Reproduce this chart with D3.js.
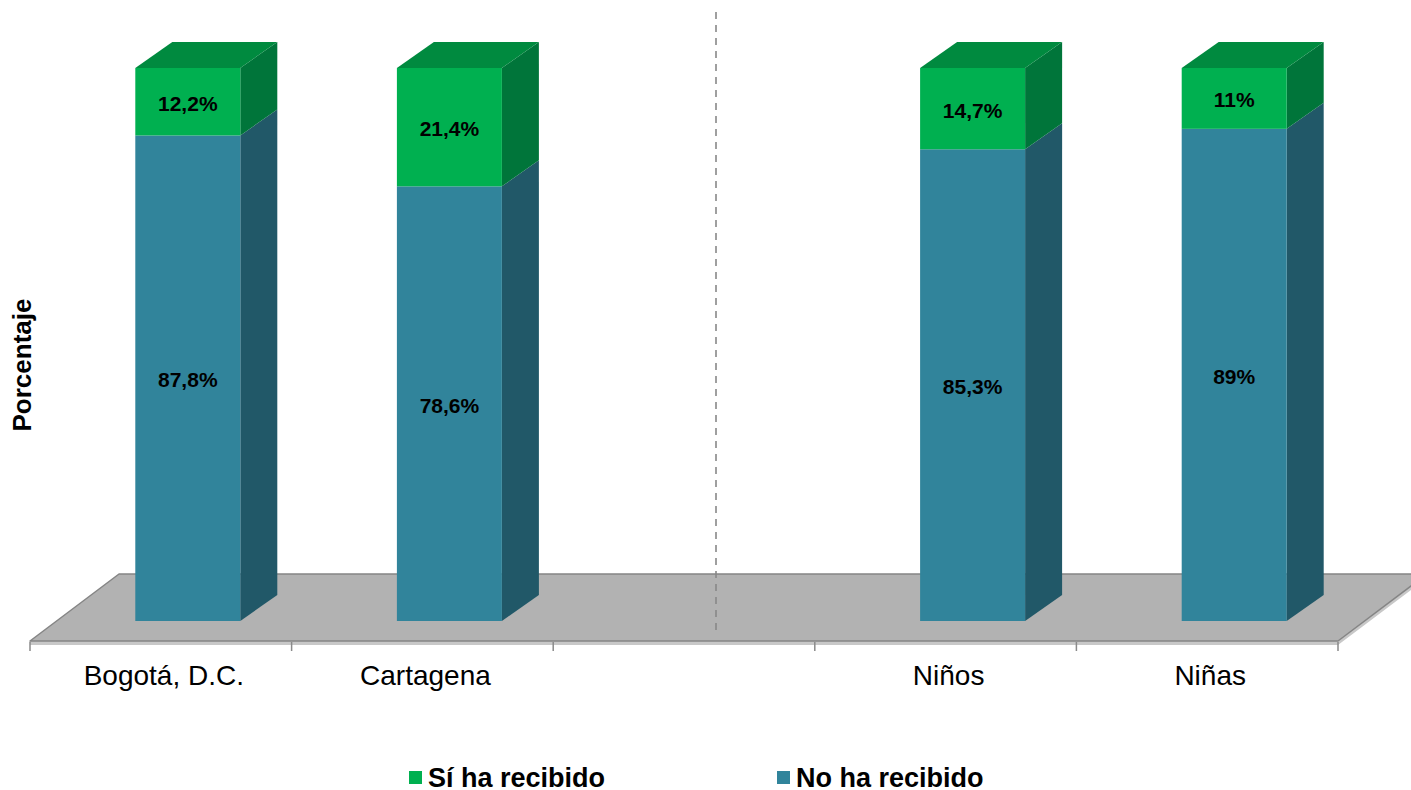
<!DOCTYPE html>
<html>
<head>
<meta charset="utf-8">
<script src="https://cdn.jsdelivr.net/npm/d3@7"></script>
<style>
  body { margin: 0; background: #fff; }
  svg { display: block; font-family: "Liberation Sans", Arial, sans-serif; }
</style>
</head>
<body>
<div id="canvas"></div>
<script>
"use strict"

/* data; the empty slot is the gap behind the dashed line */
let categories = ["Bogotá, D.C.", "Cartagena", "", "Niños", "Niñas"];
let siValues = [12.2, 21.4, null, 14.7, 11];
let noValues = [87.8, 78.6, null, 85.3, 89];
let seriesNames = ["Sí ha recibido", "No ha recibido"];

let W = 1411;
let H = 790;

let drawing = d3.select("#canvas")
    .append("svg")
    .attr("width", W)
    .attr("height", H);

/* floor and bar geometry (pseudo 3D) */
let floorY = 641;
let floorDx = 89, floorDy = -67;
let barOffX = 27, barOffY = -20;   // front face of bars sits a bit back on the floor
let barDx = 37, barDy = -26;        // bar depth
let barW = 105;

let x = d3.scaleBand()
    .domain(d3.range(categories.length))
    .range([30, 1338])
    .paddingInner(0)
    .paddingOuter(0);

let y = d3.scaleLinear()
    .domain([0, 100])
    .range([floorY + barOffY, 68]);

let fmt = v => String(v).replace(".", ",") + "%";

/* floor */
let fx0 = x.range()[0], fx1 = x.range()[1];
let floorThick = drawing.append("polygon")
    .attr("points", [[fx0, floorY], [fx1, floorY], [fx1 + floorDx, floorY + floorDy],
                     [fx1 + floorDx, floorY + floorDy + 4], [fx1, floorY + 4], [fx0, floorY + 4]].join(" "))
    .attr("fill", "#c8c8c8");

let floor = drawing.append("polygon")
    .attr("points", [[fx0, floorY], [fx1, floorY], [fx1 + floorDx, floorY + floorDy],
                     [fx0 + floorDx, floorY + floorDy]].join(" "))
    .attr("fill", "#b2b2b2")
    .attr("stroke", "#858585")
    .attr("stroke-width", 1.5)
    .attr("stroke-linejoin", "round");

/* tick marks at category boundaries */
let boundaries = d3.range(categories.length + 1).map(i => fx0 + i * x.bandwidth());
drawing.append("g")
    .selectAll("line")
    .data(boundaries)
    .join("line")
    .attr("x1", d => d)
    .attr("x2", d => d)
    .attr("y1", floorY + 1)
    .attr("y2", floorY + 10)
    .attr("stroke", "#8a8a8a")
    .attr("stroke-width", 1.5);

/* dashed separator */
let sepX = x(2) + x.bandwidth() / 2 + 32;
let separator = drawing.append("line")
    .attr("x1", sepX)
    .attr("x2", sepX)
    .attr("y1", 12)
    .attr("y2", floorY - 5)
    .attr("stroke", "#888")
    .attr("stroke-width", 1.6)
    .attr("stroke-dasharray", "7,6");

/* bars */
let colors = {
    no: { front: "#31849b", side: "#215868", top: "#2a7487" },
    si: { front: "#00b050", side: "#00753a", top: "#008a3f" }
};

let rows = categories.map((c, i) => ({ i: i, si: siValues[i], no: noValues[i] }))
    .filter(d => d.no !== null);

function box(g, x0, yTop, yBot, col, drawTop) {
    let x1 = x0 + barW;
    g.append("polygon")
        .attr("points", [[x1, yBot], [x1 + barDx, yBot + barDy], [x1 + barDx, yTop + barDy], [x1, yTop]].join(" "))
        .attr("fill", col.side);
    g.append("rect")
        .attr("x", x0)
        .attr("y", yTop)
        .attr("width", barW)
        .attr("height", yBot - yTop)
        .attr("fill", col.front);
    if (drawTop) {
        g.append("polygon")
            .attr("points", [[x0, yTop], [x1, yTop], [x1 + barDx, yTop + barDy], [x0 + barDx, yTop + barDy]].join(" "))
            .attr("fill", col.top);
    }
}

let bars = drawing.append("g");
rows.forEach(d => {
    let x0 = x(d.i) + (x.bandwidth() - barW) / 2 + barOffX;
    let g = bars.append("g");
    box(g, x0, y(d.no), y(0), colors.no, false);
    box(g, x0, y(d.no + d.si), y(d.no), colors.si, true);

    g.append("text")
        .attr("x", x0 + barW / 2)
        .attr("y", (y(d.no) + y(0)) / 2 + 9)
        .attr("text-anchor", "middle")
        .attr("font-size", 21)
        .attr("font-weight", "bold")
        .attr("fill", "#000")
        .text(fmt(d.no));
    g.append("text")
        .attr("x", x0 + barW / 2)
        .attr("y", (y(d.no + d.si) + y(d.no)) / 2 + 9)
        .attr("text-anchor", "middle")
        .attr("font-size", 21)
        .attr("font-weight", "bold")
        .attr("fill", "#000")
        .text(fmt(d.si));
});

/* category labels through the axis */
let xAxis = drawing.append("g")
    .attr("transform", "translate(0," + floorY + ")")
    .call(d3.axisBottom(x).tickSize(0).tickFormat(i => categories[i]));
xAxis.select(".domain").remove();
xAxis.selectAll("text")
    .attr("x", 3)
    .attr("y", 44)
    .attr("dy", 0)
    .attr("font-size", 28)
    .attr("font-family", "'Liberation Sans', Arial, sans-serif")
    .attr("fill", "#000");

/* y title */
let yTitle = drawing.append("text")
    .attr("transform", "translate(31,365) rotate(-90)")
    .attr("text-anchor", "middle")
    .attr("font-size", 26)
    .attr("font-weight", "bold")
    .text("Porcentaje");

/* legend */
let legend = [
    { name: seriesNames[0], color: colors.si.front, x: 409 },
    { name: seriesNames[1], color: colors.no.front, x: 777 }
];
let lg = drawing.append("g")
    .selectAll("g")
    .data(legend)
    .join("g")
    .attr("transform", d => "translate(" + d.x + ",0)");
lg.append("rect")
    .attr("x", 0)
    .attr("y", 771)
    .attr("width", 13)
    .attr("height", 13)
    .attr("fill", d => d.color);
lg.append("text")
    .attr("x", 19)
    .attr("y", 787)
    .attr("font-size", 27)
    .attr("font-weight", "bold")
    .text(d => d.name);
</script>
</body>
</html>
